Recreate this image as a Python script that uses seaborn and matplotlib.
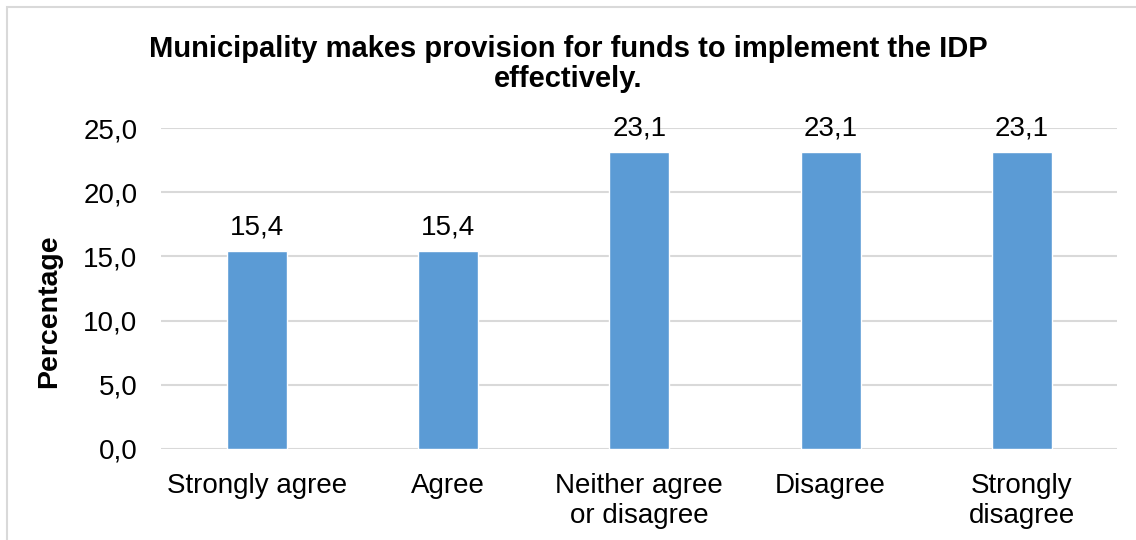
import matplotlib
matplotlib.use("Agg")
import matplotlib.pyplot as plt
import seaborn as sns
import pandas as pd
from matplotlib.patches import Rectangle

categories = ["Strongly agree", "Agree", "Neither agree\nor disagree", "Disagree", "Strongly\ndisagree"]
values = [15.4, 15.4, 23.1, 23.1, 23.1]
y_ticks = [0, 5, 10, 15, 20, 25]
title = "Municipality makes provision for funds to implement the IDP\neffectively."
y_label = "Percentage"

sns.set_theme(style="white")
plt.rcParams["font.family"] = ["Liberation Sans", "DejaVu Sans"]
plt.rcParams["text.color"] = "black"
plt.rcParams["axes.labelcolor"] = "black"

df = pd.DataFrame({"category": categories, "value": values})

fig = plt.figure(figsize=(11.36, 5.40), dpi=100)
ax = fig.add_axes([161 / 1136, 91 / 540, (1117.5 - 161) / 1136, (449 - 128) / 540])

sns.barplot(data=df, x="category", y="value", color="#5B9BD5", width=0.314,
            saturation=1, ax=ax, zorder=3)

ax.set_ylim(0, 25)
ax.set_yticks(y_ticks)
ax.set_yticklabels([f"{t:.1f}".replace(".", ",") for t in y_ticks])
ax.grid(axis="y", color="#D9D9D9", linewidth=1.5, zorder=0)
ax.set_axisbelow(True)
for s in ax.spines.values():
    s.set_visible(False)
ax.tick_params(axis="both", length=0, labelsize=20, colors="black")
ax.tick_params(axis="y", pad=17)
ax.tick_params(axis="x", pad=17)
for lbl in ax.get_xticklabels():
    lbl.set_linespacing(1.22)

ax.set_xlabel("")
ax.set_ylabel(y_label, fontsize=20.5, fontweight="bold", color="black")
ax.yaxis.set_label_coords(-0.1035, 0.43)

ax.bar_label(ax.containers[0], labels=[f"{v:.1f}".replace(".", ",") for v in values],
             padding=8, fontsize=20, color="black")

fig.text(568 / 1136, 1 - 64 / 540, title, ha="center", va="center",
         fontsize=21, fontweight="bold", linespacing=1.05, color="black")

# light frame around the chart area
fig.patches.append(Rectangle((7 / 1136, -0.1), 1.2, (1 - 7 / 540) + 0.1,
                             transform=fig.transFigure, fill=False,
                             edgecolor="#D9D9D9", linewidth=1.5))

fig.savefig("out.png", dpi=100)
